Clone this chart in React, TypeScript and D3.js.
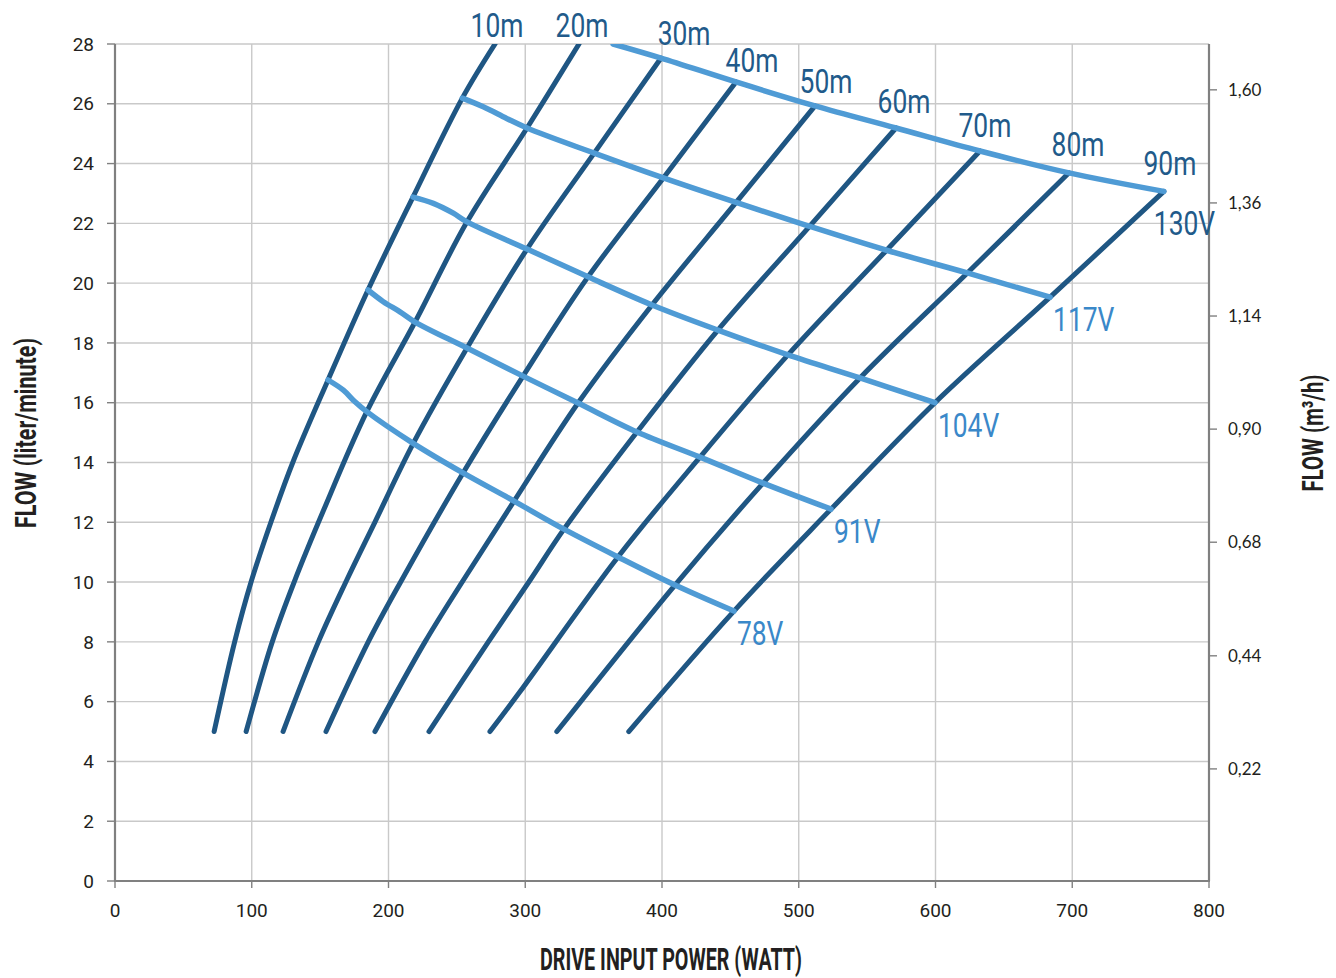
import React from "react";
import * as d3 from "d3";

// ---- axis ticks ----
const xTickValues = [0, 100, 200, 300, 400, 500, 600, 700, 800];
const yTickValues = [0, 2, 4, 6, 8, 10, 12, 14, 16, 18, 20, 22, 24, 26, 28];
const rightTickValues = [0.225, 0.452, 0.68, 0.907, 1.134, 1.361, 1.588];
const rightTickLabels = ["0,22", "0,44", "0,68", "0,90", "1,14", "1,36", "1,60"];

// ---- series names ----
const headNames = ["10m", "20m", "30m", "40m", "50m", "60m", "70m", "80m", "90m"];
const voltageNames = ["78V", "91V", "104V", "117V", "130V"];

// ---- head curves below the 78V line: [watt, liter/min] ----
const lower10m = [[72.5, 5], [87.5, 8], [99.5, 10], [114, 12], [130, 14]];
const lower20m = [[95.9, 5], [115, 8], [131, 10], [152.5, 12.4]];
const lower30m = [[122.9, 5], [148.7, 8], [169.5, 10.07], [190, 12]];
const lower40m = [[154.3, 5], [185.2, 8], [209.7, 10.07]];
const lower50m = [[190.1, 5], [226.7, 8], [254.8, 10.07]];
const lower60m = [[229.6, 5], [273.0, 8], [303.6, 10.07]];
const lower70m = [[274.2, 5], [296.1, 6.33]];
const lower80m = [[323.1, 5]];
const lower90m = [[375.7, 5]];
const headLower = [lower10m, lower20m, lower30m, lower40m, lower50m, lower60m, lower70m, lower80m, lower90m];

// top ends of the 10m and 20m curves (they leave the chart at 28 l/min)
const headTop = [[277.9, 28], [339.3, 28]];

// ---- crossings of each voltage line with the head curves 10m..90m ----
const cross78 = [[155.8, 16.76], [184.1, 15.7], [218.1, 14.64], [254.5, 13.65], [291.8, 12.71], [328.3, 11.77], [367.8, 10.84], [409.5, 9.9], [452.6, 9.03]];
const cross91 = [[185.0, 19.77], [219.4, 18.7], [257.4, 17.83], [298.4, 16.89], [338.6, 15.99], [381.7, 15.02], [427.8, 14.18], [473.9, 13.31], [523.6, 12.44]];
const cross104 = [[217.9, 22.88], [257.4, 22.05], [301.3, 21.14], [345.9, 20.21], [392.7, 19.27], [440.9, 18.43], [492.1, 17.6], [544.8, 16.83], [599.6, 16.0]];
const cross117 = [[254.0, 26.19], [301.3, 25.19], [350.4, 24.35], [401.0, 23.52], [454.2, 22.7], [507.9, 21.9], [564.2, 21.1], [623.3, 20.34], [683.8, 19.53]];
const cross130 = [null, null, [399.3, 27.53], [454.1, 26.73], [511.9, 25.93], [571.1, 25.19], [632.5, 24.42], [697.6, 23.69], [767.0, 23.07]];
const start130 = [364.2, 28.0];

// extra bend points of the voltage lines between 10m and 20m
const bend78 = [[167.0, 16.42], [175.5, 16.03]];
const bend91 = [[196.2, 19.38], [208.4, 19.04]];
const bend104 = [[232.8, 22.67], [247.4, 22.34]];
const bend117 = [[269.3, 25.9], [286.4, 25.51]];

// ---- layout / style ----
const headLabelDx = [2, 3, 23, 16, 11, 8, 5, 9, 6];
const headLabelDy = [-7, -7, -13, -10, -13, -15, -14, -17, -16];
const DARK = "#1f5683";
const LIGHT = "#4f9bd5";
const HEAD_TEXT = "#215a8a";
const VOLT_TEXT = "#3a88c9";
const INK = "#231f20";

export default function App() {
  const x = d3.scaleLinear().domain([0, 800]).range([115, 1209]);
  const y = d3.scaleLinear().domain([0, 28]).range([881, 44]);
  const yR = d3.scaleLinear().domain([0, 1.68]).range([881, 44]);
  const line = d3
    .line<number[]>()
    .x((d) => x(d[0]))
    .y((d) => y(d[1]))
    .curve(d3.curveCatmullRom.alpha(0.5));

  const crossings = [cross78, cross91, cross104, cross117];
  const bends = [bend78, bend91, bend104, bend117];

  const headCurves = headNames.map((_, i) => {
    const pts: number[][] = [...headLower[i]];
    crossings.forEach((c) => pts.push(c[i] as number[]));
    const top = cross130[i] ?? headTop[i];
    pts.push(top as number[]);
    return pts;
  });

  const voltageCurves = voltageNames.map((_, v) => {
    if (v < 4) {
      return [...crossings[v], ...bends[v]].sort((a, b) => a[0] - b[0]);
    }
    return [start130, ...(cross130.filter((d) => d !== null) as number[][])];
  });

  const fontTick = "Roboto, 'DejaVu Sans', sans-serif";
  const fontRight = "Lato, 'Open Sans', sans-serif";
  const fontLabel = "Roboto, 'DejaVu Sans', sans-serif";

  return (
    <svg
      width={1336}
      height={978}
      style={{ position: "absolute", left: 0, top: 0, background: "#fff" }}
    >
      <defs>
        <clipPath id="plotClip">
          <rect x={0} y={y(28)} width={1336} height={900} />
        </clipPath>
      </defs>

      {/* grid */}
      <g stroke="#c9c9c9" strokeWidth={1.4}>
        {xTickValues.filter((t) => t > 0 && t < 800).map((t) => (
          <line key={"gx" + t} x1={x(t)} x2={x(t)} y1={y(0)} y2={y(28)} />
        ))}
        {yTickValues.filter((t) => t > 0).map((t) => (
          <line key={"gy" + t} x1={x(0)} x2={x(800)} y1={y(t)} y2={y(t)} />
        ))}
      </g>

      {/* axes */}
      <g stroke="#808080" strokeWidth={2.2} fill="none">
        <line x1={x(0)} x2={x(0)} y1={y(0)} y2={y(28)} />
        <line x1={x(800)} x2={x(800)} y1={y(0)} y2={y(28)} />
        <line x1={x(0) - 1} x2={x(800) + 1} y1={y(0)} y2={y(0)} />
        {yTickValues.map((t) => (
          <line key={"ty" + t} x1={x(0) - 8} x2={x(0)} y1={y(t)} y2={y(t)} strokeWidth={1.4} />
        ))}
        {xTickValues.map((t) => (
          <line key={"tx" + t} x1={x(t)} x2={x(t)} y1={y(0)} y2={y(0) + 7} strokeWidth={1.4} />
        ))}
        {rightTickValues.map((t) => (
          <line key={"tr" + t} x1={x(800)} x2={x(800) + 8} y1={yR(t)} y2={yR(t)} strokeWidth={1.4} />
        ))}
      </g>

      {/* tick labels */}
      <g fill={INK} fontFamily={fontTick} fontSize={19}>
        {yTickValues.map((t) => (
          <text key={"ly" + t} x={x(0) - 21} y={y(t)} dy="0.35em" textAnchor="end">
            {t}
          </text>
        ))}
        {xTickValues.map((t) => (
          <text key={"lx" + t} x={x(t)} y={y(0) + 36} textAnchor="middle">
            {t}
          </text>
        ))}
      </g>
      <g fill={INK} fontFamily={fontRight} fontSize={17}>
        {rightTickValues.map((t, i) => (
          <text key={"lr" + t} x={x(800) + 19} y={yR(t)} dy="0.35em" textAnchor="start">
            {rightTickLabels[i]}
          </text>
        ))}
      </g>

      {/* axis titles */}
      <g fill={INK} fontFamily={fontTick} fontWeight={700}>
        <text
          x={671}
          y={970}
          fontSize={32}
          textAnchor="middle"
          textLength={262}
          lengthAdjust="spacingAndGlyphs"
        >
          DRIVE INPUT POWER (WATT)
        </text>
        <text
          transform="translate(36,433) rotate(-90)"
          fontSize={30}
          textAnchor="middle"
          textLength={190}
          lengthAdjust="spacingAndGlyphs"
        >
          FLOW (liter/minute)
        </text>
        <text
          transform="translate(1323,433) rotate(-90)"
          fontSize={30}
          textAnchor="middle"
          textLength={117}
          lengthAdjust="spacingAndGlyphs"
        >
          FLOW (m³/h)
        </text>
      </g>

      {/* curves */}
      <g clipPath="url(#plotClip)" fill="none" strokeLinecap="round" strokeLinejoin="round">
        {headCurves.map((pts, i) => (
          <path key={"h" + i} d={line(pts) ?? ""} stroke={DARK} strokeWidth={5} />
        ))}
        {voltageCurves.map((pts, i) => (
          <path key={"v" + i} d={line(pts) ?? ""} stroke={LIGHT} strokeWidth={5.5} />
        ))}
      </g>

      {/* head labels */}
      <g fontFamily={fontLabel} fontSize={33} fill={HEAD_TEXT}>
        {headCurves.map((pts, i) => {
          const e = pts[pts.length - 1];
          const px = x(e[0]) + headLabelDx[i];
          const py = y(e[1]) + headLabelDy[i];
          return (
            <text key={"hl" + i} transform={`translate(${px},${py}) scale(0.8,1)`} textAnchor="middle">
              {headNames[i]}
            </text>
          );
        })}
      </g>

      {/* voltage labels */}
      <g fontFamily={fontLabel} fontSize={33}>
        {voltageCurves.map((pts, i) => {
          const e = pts[pts.length - 1];
          const last = i === 4;
          const px = x(e[0]) + (last ? -10 : 3);
          const py = y(e[1]) + (last ? 44 : 34);
          return (
            <text
              key={"vl" + i}
              transform={`translate(${px},${py}) scale(0.8,1)`}
              fill={last ? HEAD_TEXT : VOLT_TEXT}
            >
              {voltageNames[i]}
            </text>
          );
        })}
      </g>
    </svg>
  );
}
